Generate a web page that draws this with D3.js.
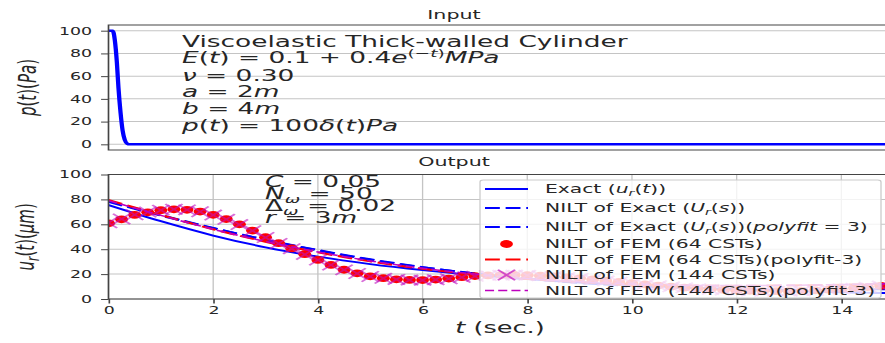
<!DOCTYPE html>
<html>
<head>
<meta charset="utf-8">
<script src="https://cdn.jsdelivr.net/npm/d3@7"></script>
<style>
  body { margin: 0; background: #fff; }
  svg { display: block; }
  text { font-family: "DejaVu Sans", sans-serif; fill: #262626; }
</style>
</head>
<body>
<svg id="chart"></svg>
<script>
// input pulse p(t)
const timeInput = [0, 0.08, 0.12, 0.16, 0.19, 0.23, 0.27, 0.31, 0.36, 0.4, 15];
const pulse = [100, 100, 92, 72, 50, 28, 12, 4, 0.5, 0, 0];

// output, sampled every 0.25 s (FEM markers)
const timeFem = [0, 0.25, 0.5, 0.75, 1, 1.25, 1.5, 1.75, 2, 2.25, 2.5, 2.75, 3, 3.25, 3.5, 3.75,
  4, 4.25, 4.5, 4.75, 5, 5.25, 5.5, 5.75, 6, 6.25, 6.5, 6.75, 7, 7.25, 7.5, 7.75,
  8, 8.25, 8.5, 8.75, 9, 9.25, 9.5, 9.75, 10, 10.25, 10.5, 10.75, 11, 11.25, 11.5, 11.75,
  12, 12.25, 12.5, 12.75, 13, 13.25, 13.5, 13.75, 14, 14.25, 14.5, 14.75, 15];
const femCoarse = [60.8, 64, 67.5, 69.6, 71.3, 72, 71.6, 70.2, 67.6, 64.2, 60, 55, 49.6, 44.8, 40.6, 36,
  31.4, 27.4, 23.5, 20.6, 18.2, 16.7, 15.8, 15.3, 15.2, 15.6, 16.4, 17.5, 18.4, 18.9, 19.2, 19.3,
  19.1, 18.7, 18.1, 17.4, 16.6, 15.7, 14.7, 13.7, 12.7, 11.7, 10.8, 9.9, 9.1, 8.4, 7.8, 7.3,
  6.9, 6.6, 6.4, 6.3, 6.4, 6.6, 7, 7.5, 8.1, 8.8, 9.6, 10.5, 11.5];
const femFine = [61.2, 64.3, 67.7, 69.8, 71.4, 72.1, 71.6, 70.1, 67.4, 64, 59.8, 54.8, 49.4, 44.6, 40.4, 35.8,
  31.3, 27.3, 23.4, 20.5, 18.1, 16.6, 15.7, 15.2, 15.1, 15.5, 16.3, 17.4, 18.3, 18.8, 19.1, 19.2,
  19, 18.6, 18, 17.3, 16.5, 15.6, 14.6, 13.6, 12.6, 11.6, 10.7, 9.8, 9, 8.3, 7.7, 7.2,
  6.8, 6.5, 6.3, 6.2, 6.3, 6.5, 6.9, 7.4, 8, 8.7, 9.5, 10.4, 11.4];

// smooth curves, sampled every 1 s
const timeFit = [0, 1, 2, 3, 4, 5, 6, 7, 8, 9, 10, 11, 12, 13, 14, 15];
const exactU = [75.5, 62.5, 51, 41.5, 34, 28, 23.2, 19.2, 16, 13.3, 11.1, 9.3, 7.8, 6.5, 5.5, 4.6];
const niltExact = [78.5, 67.5, 57, 47.5, 39, 31.5, 25.5, 20.5, 16.5, 13.5, 11, 9, 7.5, 6.3, 5.4, 4.7];
const niltExactFit = [78, 67, 56.8, 47.6, 39.3, 31.9, 25.6, 20.4, 16.2, 12.9, 10.5, 8.8, 7.8, 7.4, 7.5, 8];
const femCoarseFit = [79.5, 67.5, 56, 46, 37.5, 30.2, 24.3, 19.6, 16.1, 13.6, 11.9, 11, 10.7, 10.9, 11.5, 12.4];
const femFineFit = [79, 67.2, 56, 46.2, 37.8, 30.6, 24.7, 20, 16.4, 13.8, 12.1, 11.1, 10.8, 11, 11.6, 12.5];

const xTicks = [0, 2, 4, 6, 8, 10, 12, 14];
const yTicks = [0, 20, 40, 60, 80, 100];

// the picture is stretched sideways, so draw narrow and let the viewBox widen it
const SX = 1.65;
const W = 885 / SX, H = 343;

const svg = d3.select('#chart')
  .attr('width', 885)
  .attr('height', H)
  .attr('viewBox', `0 0 ${W} ${H}`)
  .attr('preserveAspectRatio', 'none');

const left = 108.5 / SX, right = 893.7 / SX;
const x = d3.scaleLinear().domain([0, 15]).range([left, right]);
const yTop = d3.scaleLinear().domain([-5, 105]).range([150, 25]);
const yBot = d3.scaleLinear().domain([0, 100]).range([299, 174.5]);

// text with italic / sub / sup pieces
function rich(sel, parts, size) {
  let shift = 0;
  parts.forEach(([str, style]) => {
    const off = style.includes('sub') ? size * 0.22 : style.includes('sup') ? -size * 0.4 : 0;
    sel.append('tspan').text(str)
      .attr('dy', off - shift)
      .attr('font-size', off ? size * 0.7 : size)
      .attr('font-style', style.includes('i') ? 'italic' : 'normal');
    shift = off;
  });
  return sel;
}

const defs = svg.append('defs');
defs.append('clipPath').attr('id', 'clipTop')
  .append('rect').attr('x', left).attr('y', 25).attr('width', right - left).attr('height', 125);
defs.append('clipPath').attr('id', 'clipBot')
  .append('rect').attr('x', left).attr('y', 174.5).attr('width', right - left).attr('height', 124.5);

// ---------- top: input ----------
const gTop = svg.append('g');
gTop.append('g').selectAll('line').data(yTicks).join('line')
  .attr('x1', left).attr('x2', right)
  .attr('y1', d => yTop(d)).attr('y2', d => yTop(d))
  .attr('stroke', '#c4c4c4').attr('stroke-width', 1);

gTop.append('path')
  .attr('clip-path', 'url(#clipTop)')
  .attr('d', d3.line().x((d, i) => x(timeInput[i])).y(d => yTop(d)).curve(d3.curveMonotoneX)(pulse))
  .attr('fill', 'none').attr('stroke', '#0000ff').attr('stroke-width', 2.6);

gTop.append('rect').attr('x', left).attr('y', 25).attr('width', right - left).attr('height', 125)
  .attr('fill', 'none').attr('stroke', '#444').attr('stroke-width', 1);

const axTop = gTop.append('g').attr('transform', `translate(${left},0)`)
  .call(d3.axisLeft(yTop).tickValues(yTicks).tickSize(4.5).tickPadding(5.5));
axTop.select('.domain').remove();

gTop.append('text').attr('x', 454 / SX).attr('y', 19).attr('text-anchor', 'middle')
  .attr('font-size', 12.5).text('Input');

gTop.append('text').attr('transform', `translate(${36 / SX},87.5) rotate(-90)`)
  .attr('text-anchor', 'middle')
  .call(rich, [['p', 'i'], ['(', ''], ['t', 'i'], [')(', ''], ['Pa', 'i'], [')', '']], 15);

const noteTop = [
  [['Viscoelastic Thick-walled Cylinder', '']],
  [['E', 'i'], ['(', ''], ['t', 'i'], [') = 0.1 + 0.4', ''], ['e', 'i'], ['(−', 'sup'], ['t', 'isup'], [')', 'sup'], ['MPa', 'i']],
  [['ν', 'i'], [' = 0.30', '']],
  [['a', 'i'], [' = 2', ''], ['m', 'i']],
  [['b', 'i'], [' = 4', ''], ['m', 'i']],
  [['p', 'i'], ['(', ''], ['t', 'i'], [') = 100', ''], ['δ', 'i'], ['(', ''], ['t', 'i'], [')', ''], ['Pa', 'i']]
];
const noteTopY = [47, 63.5, 81, 97, 114, 131];
noteTop.forEach((parts, i) => {
  gTop.append('text').attr('x', 182 / SX).attr('y', noteTopY[i]).call(rich, parts, 16);
});

// ---------- bottom: output ----------
const gBot = svg.append('g');
gBot.append('g').selectAll('line').data(yTicks).join('line')
  .attr('x1', left).attr('x2', right)
  .attr('y1', d => yBot(d)).attr('y2', d => yBot(d))
  .attr('stroke', '#c4c4c4').attr('stroke-width', 1);
gBot.append('g').selectAll('line').data(xTicks).join('line')
  .attr('x1', d => x(d)).attr('x2', d => x(d))
  .attr('y1', 174.5).attr('y2', 299)
  .attr('stroke', '#c4c4c4').attr('stroke-width', 0.8);

const plot = gBot.append('g').attr('clip-path', 'url(#clipBot)');
const lineFit = d3.line().x((d, i) => x(timeFit[i])).y(d => yBot(d)).curve(d3.curveMonotoneX);

plot.append('path').attr('d', lineFit(exactU))
  .attr('fill', 'none').attr('stroke', '#0000ff').attr('stroke-width', 1.9);
plot.append('path').attr('d', lineFit(niltExact))
  .attr('fill', 'none').attr('stroke', '#0000ff').attr('stroke-width', 2).attr('stroke-dasharray', '9,3.5');
plot.append('path').attr('d', lineFit(niltExactFit))
  .attr('fill', 'none').attr('stroke', '#0000ff').attr('stroke-width', 2).attr('stroke-dasharray', '9,3.5');

plot.append('g').selectAll('circle').data(femCoarse).join('circle')
  .attr('cx', (d, i) => x(timeFem[i])).attr('cy', d => yBot(d)).attr('r', 3.9)
  .attr('fill', '#ff0000');

plot.append('path').attr('d', lineFit(femCoarseFit))
  .attr('fill', 'none').attr('stroke', '#ff0000').attr('stroke-width', 2).attr('stroke-dasharray', '9,3.5');

const xs = 5.2;
plot.append('g').selectAll('path').data(femFine).join('path')
  .attr('d', (d, i) => {
    const cx = x(timeFem[i]), cy = yBot(d);
    return `M${cx - xs},${cy - xs}L${cx + xs},${cy + xs}M${cx - xs},${cy + xs}L${cx + xs},${cy - xs}`;
  })
  .attr('stroke', '#c010c0').attr('stroke-opacity', 0.6).attr('stroke-width', 1.5).attr('fill', 'none');

plot.append('path').attr('d', lineFit(femFineFit))
  .attr('fill', 'none').attr('stroke', '#bf00bf').attr('stroke-width', 1.5).attr('stroke-dasharray', '5.5,2.5');

gBot.append('rect').attr('x', left).attr('y', 174.5).attr('width', right - left).attr('height', 124.5)
  .attr('fill', 'none').attr('stroke', '#444').attr('stroke-width', 1);

const axBotY = gBot.append('g').attr('transform', `translate(${left},0)`)
  .call(d3.axisLeft(yBot).tickValues(yTicks).tickSize(4.5).tickPadding(5.5));
axBotY.select('.domain').remove();
const axBotX = gBot.append('g').attr('transform', 'translate(0,299)')
  .call(d3.axisBottom(x).tickValues(xTicks).tickSize(4.5).tickPadding(3.5));
axBotX.select('.domain').remove();

svg.selectAll('.tick text').attr('font-size', 10.5).attr('font-family', '"DejaVu Sans", sans-serif').attr('fill', '#333');
svg.selectAll('.tick line').attr('stroke', '#444');

gBot.append('text').attr('x', 454 / SX).attr('y', 166).attr('text-anchor', 'middle')
  .attr('font-size', 12.5).text('Output');

gBot.append('text').attr('transform', `translate(${34 / SX},236.8) rotate(-90)`)
  .attr('text-anchor', 'middle')
  .call(rich, [['u', 'i'], ['r', 'isub'], ['(', ''], ['t', 'i'], [')(', ''], ['μm', 'i'], [')', '']], 15);

gBot.append('text').attr('x', 500 / SX).attr('y', 333).attr('text-anchor', 'middle')
  .call(rich, [['t', 'i'], [' (sec.)', '']], 15.5);

const noteBot = [
  [['C', 'i'], [' = 0.05', '']],
  [['N', 'i'], ['ω', 'isub'], [' = 50', '']],
  [['Δ', ''], ['ω', 'isub'], [' = 0.02', '']],
  [['r', 'i'], [' = 3', ''], ['m', 'i']]
];
const noteBotY = [187, 199, 211.5, 223.5];
noteBot.forEach((parts, i) => {
  gBot.append('text').attr('x', 265 / SX).attr('y', noteBotY[i]).call(rich, parts, 16);
});

// ---------- legend ----------
const legendLabels = [
  [['Exact (', ''], ['u', 'i'], ['r', 'isub'], ['(', ''], ['t', 'i'], ['))', '']],
  [['NILT of Exact (', ''], ['U', 'i'], ['r', 'isub'], ['(', ''], ['s', 'i'], ['))', '']],
  [['NILT of Exact (', ''], ['U', 'i'], ['r', 'isub'], ['(', ''], ['s', 'i'], ['))(', ''], ['polyfit', 'i'], [' = 3)', '']],
  [['NILT of FEM (64 CSTs)', '']],
  [['NILT of FEM (64 CSTs)(polyfit-3)', '']],
  [['NILT of FEM (144 CSTs)', '']],
  [['NILT of FEM (144 CSTs)(polyfit-3)', '']]
];
const legendY = [189, 208, 227, 244, 259.5, 275, 290.5];
const legendKind = ['solid-b', 'dash-b', 'dash-b', 'dot-r', 'dash-r', 'x-m', 'dash-m'];

const lg = svg.append('g');
lg.append('rect').attr('x', 480 / SX).attr('y', 180).attr('width', (881 - 480) / SX).attr('height', 118)
  .attr('rx', 2).attr('fill', '#fff').attr('fill-opacity', 0.8)
  .attr('stroke', '#cccccc').attr('stroke-width', 0.8);

const hx0 = 485 / SX, hx1 = 528 / SX, hxm = (hx0 + hx1) / 2;
legendKind.forEach((k, i) => {
  const y = legendY[i];
  if (k === 'dot-r') {
    lg.append('circle').attr('cx', hxm).attr('cy', y).attr('r', 3.9).attr('fill', '#ff0000');
  } else if (k === 'x-m') {
    lg.append('path')
      .attr('d', `M${hxm - xs},${y - xs}L${hxm + xs},${y + xs}M${hxm - xs},${y + xs}L${hxm + xs},${y - xs}`)
      .attr('stroke', '#c010c0').attr('stroke-opacity', 0.7).attr('stroke-width', 1.5);
  } else {
    const color = k.endsWith('b') ? '#0000ff' : k.endsWith('r') ? '#ff0000' : '#bf00bf';
    const l = lg.append('line').attr('x1', hx0).attr('x2', hx1).attr('y1', y).attr('y2', y)
      .attr('stroke', color).attr('stroke-width', k === 'dash-m' ? 1.5 : 2);
    if (k === 'dash-b' || k === 'dash-r') l.attr('stroke-dasharray', '9,3.5');
    if (k === 'dash-m') l.attr('stroke-dasharray', '5.5,2.5');
  }
  lg.append('text').attr('x', 545 / SX).attr('y', y + 4.3).call(rich, legendLabels[i], 12.3);
});
</script>
</body>
</html>
